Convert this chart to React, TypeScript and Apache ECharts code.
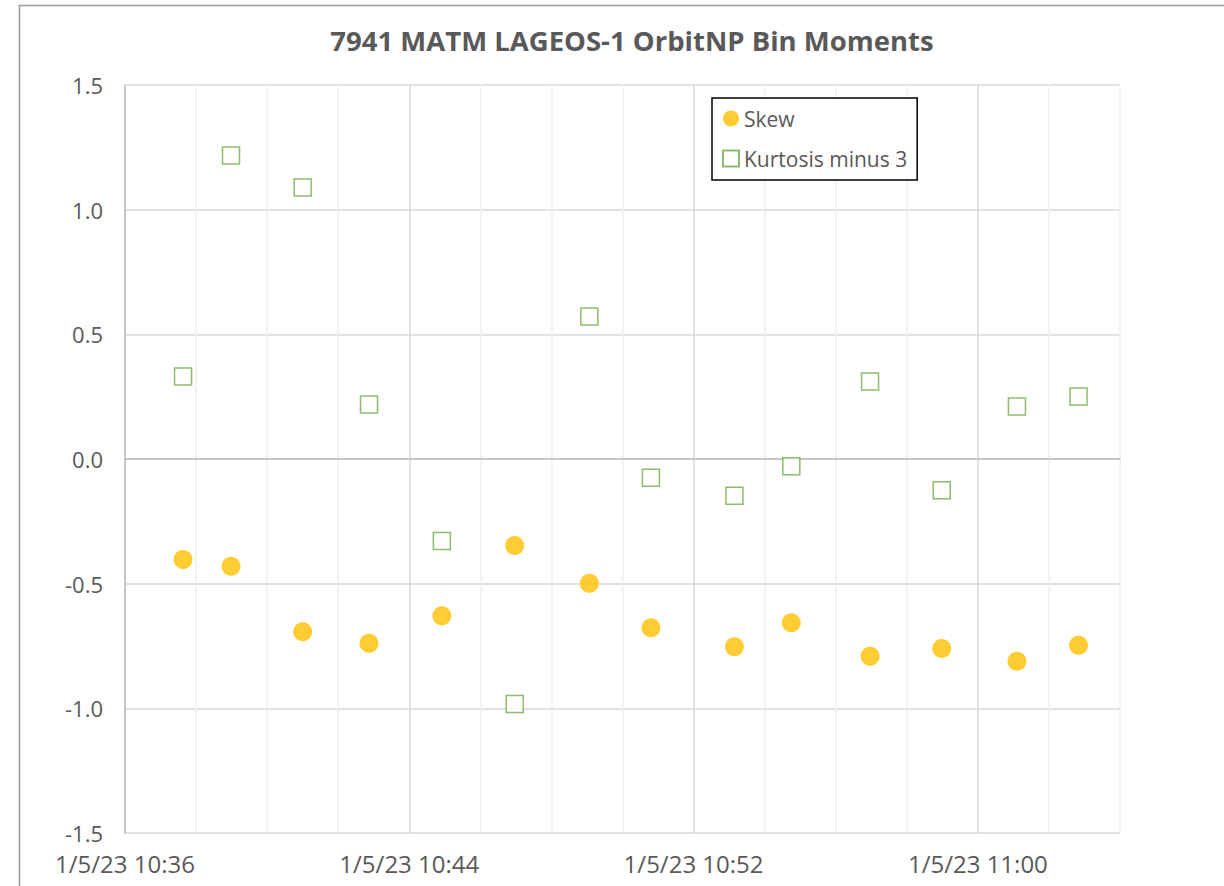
import React, { useEffect, useRef } from "react";
import * as echarts from "echarts";

const title = "7941 MATM LAGEOS-1 OrbitNP Bin Moments";
const datePrefix = "1/5/23";
const axisStart = "10:36";
const axisEnd = "11:04";
const times = [
  "10:37:38", "10:38:59", "10:41:00", "10:42:52", "10:44:55", "10:46:58", "10:49:04",
  "10:50:48", "10:53:09", "10:54:45", "10:56:58", "10:58:59", "11:01:06", "11:02:50",
];
const skew = [-0.403, -0.43, -0.693, -0.739, -0.629, -0.347, -0.498, -0.677, -0.753, -0.657, -0.791, -0.76, -0.811, -0.747];
const kurtosisMinus3 = [0.331, 1.217, 1.089, 0.219, -0.329, -0.983, 0.572, -0.075, -0.147, -0.029, 0.311, -0.125, 0.211, 0.251];
const seriesNames = ["Skew", "Kurtosis minus 3"];
const yMin = -1.5;
const yMax = 1.5;
const yStep = 0.5;
const labelEveryMinutes = 8;
const gridEveryMinutes = 2;

function toMinutes(t: string): number {
  const p = t.split(":").map(Number);
  return p[0] * 60 + p[1] + (p[2] || 0) / 60;
}
const base = toMinutes(axisStart);
const span = toMinutes(axisEnd) - base;

export default function App() {
  const ref = useRef<HTMLDivElement>(null);
  useEffect(() => {
    if (!ref.current) return;
    const chart = echarts.init(ref.current, undefined, { renderer: "svg" });
    const xs = times.map((t) => toMinutes(t) - base);
    const font = "'Open Sans', 'Noto Sans', sans-serif";
    chart.setOption({
      animation: false,
      backgroundColor: "#ffffff",
      title: {
        text: title,
        left: 627,
        top: 21,
        textAlign: "center",
        textStyle: { fontFamily: font, fontWeight: "bold", fontSize: 27.5, color: "#595959" },
      },
      graphic: [
        {
          type: "rect",
          shape: { x: 19.5, y: 5.5, width: 1400, height: 1000 },
          style: { fill: "none", stroke: "#9a9a9a", lineWidth: 1.5 },
          silent: true,
        },
      ],
      legend: {
        orient: "vertical",
        left: 712,
        top: 98,
        padding: [10, 10, 11, 10],
        itemGap: 19,
        itemWidth: 16,
        itemHeight: 16,
        borderColor: "#000000",
        borderWidth: 1.5,
        backgroundColor: "#ffffff",
        textStyle: { fontFamily: font, fontSize: 21, color: "#595959" },
        data: seriesNames,
      },
      grid: { left: 125, top: 85, right: 104, bottom: 53 },
      xAxis: {
        type: "value",
        min: 0,
        max: span,
        interval: gridEveryMinutes,
        axisLine: { show: true, lineStyle: { color: "#bfbfbf", width: 1.5 } },
        axisTick: { show: false },
        axisLabel: {
          margin: 18,
          fontFamily: font,
          fontSize: 24,
          lineHeight: 24,
          color: "#595959",
          formatter: (v: number) => {
            if (Math.round(v) % labelEveryMinutes !== 0 || v >= span) return "";
            const m = base + v;
            const h = Math.floor(m / 60);
            const mm = Math.round(m % 60);
            return `${datePrefix} ${h}:${mm < 10 ? "0" + mm : mm}`;
          },
        },
        splitLine: {
          show: true,
          lineStyle: { color: ["#d9d9d9", "#efefef", "#efefef", "#efefef"], width: 1.5 },
        },
      },
      yAxis: {
        type: "value",
        min: yMin,
        max: yMax,
        interval: yStep,
        axisLine: { show: true, lineStyle: { color: "#bfbfbf", width: 1.5 } },
        axisTick: { show: false },
        axisLabel: {
          margin: 22,
          fontFamily: font,
          fontSize: 22,
          lineHeight: 22,
          color: "#595959",
          formatter: (v: number) => v.toFixed(1),
        },
        splitLine: { show: true, lineStyle: { color: "#d9d9d9", width: 1.5 } },
      },
      series: [
        {
          name: seriesNames[0],
          type: "scatter",
          symbol: "circle",
          symbolSize: 19,
          itemStyle: { color: "#FFC000" },
          data: xs.map((x, i) => [x, skew[i]]),
        },
        {
          name: seriesNames[1],
          type: "scatter",
          symbol: "rect",
          symbolSize: 17,
          itemStyle: { color: "#ffffff", borderColor: "#70AD47", borderWidth: 1.5 },
          data: xs.map((x, i) => [x, kurtosisMinus3[i]]),
        },
      ],
    });
    return () => chart.dispose();
  }, []);
  return <div ref={ref} style={{ position: "fixed", left: 0, top: 0, width: 1224, height: 886 }} />;
}
